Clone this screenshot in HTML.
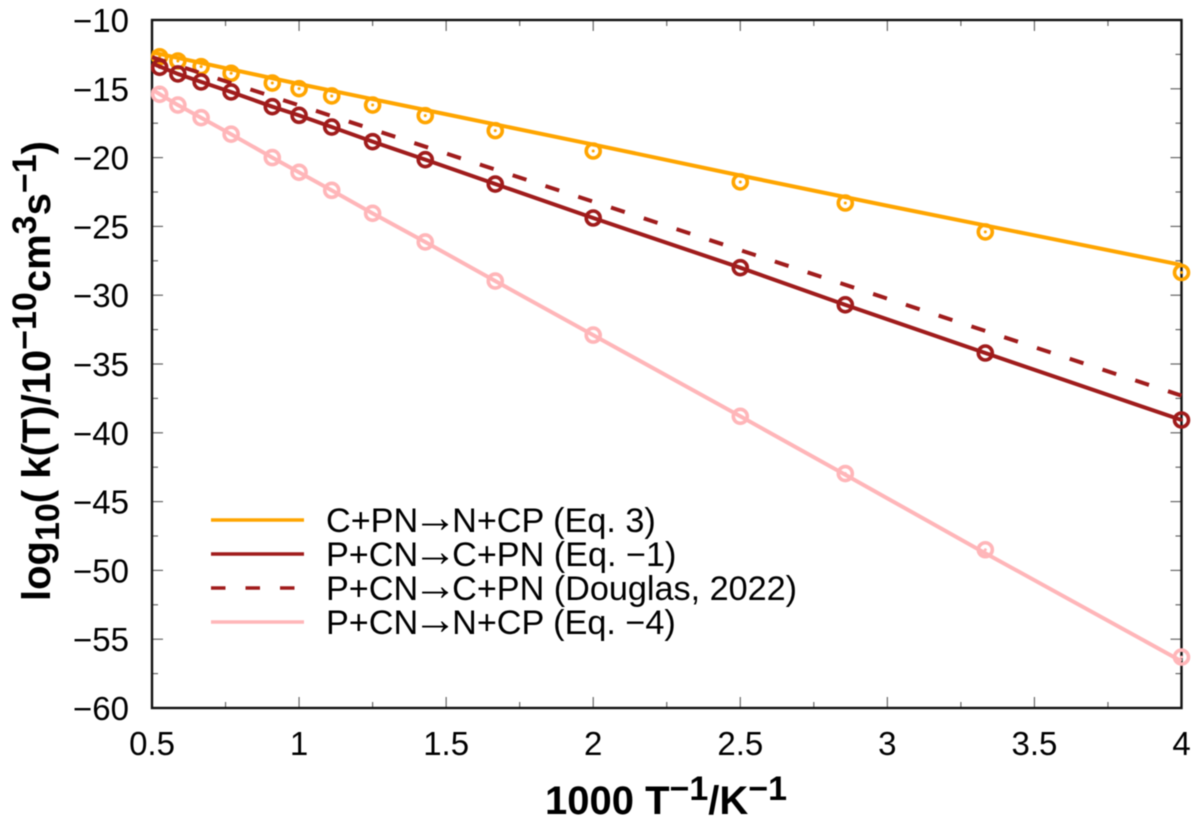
<!DOCTYPE html>
<html>
<head>
<meta charset="utf-8">
<title>Rate coefficients chart</title>
<style>
html,body{margin:0;padding:0;background:#fff}
svg{display:block;filter:blur(0.45px)}
text{font-family:"Liberation Sans",sans-serif;fill:#000}
.arrow{font-size:44px}
</style>
</head>
<body>
<svg id="chart" width="1200" height="820" viewBox="0 0 1200 820" xmlns="http://www.w3.org/2000/svg">
  <rect x="0" y="0" width="1200" height="820" fill="#fff"/>
  <g id="ticks"></g>
  <rect x="152" y="20" width="1029.5" height="688" fill="none" stroke="#111" stroke-width="2.4"/>
  <g id="tick-labels" font-size="33"></g>
  <g id="series"></g>

  <text x="545" y="814" font-size="40" font-weight="bold">1000 T<tspan font-size="34" dy="-14">−1</tspan><tspan font-size="40" dy="14">/K</tspan><tspan font-size="34" dy="-14">−1</tspan></text>
  <text transform="translate(50,601) rotate(-90)" font-size="40" font-weight="bold">log<tspan font-size="34" dy="9">10</tspan><tspan font-size="40" dy="-9">( k(T)/10</tspan><tspan font-size="34" dy="-14">−10</tspan><tspan font-size="40" dy="14">cm</tspan><tspan font-size="34" dy="-14">3</tspan><tspan font-size="40" dy="14">s</tspan><tspan font-size="34" dy="-14">−1</tspan><tspan font-size="40" dy="14">)</tspan></text>

  <g font-size="34.2">
    <g>
      <line x1="211" x2="304" y1="520" y2="520" stroke="#ffa500" stroke-width="3.6"/>
      <text x="326" y="532">C+PN<tspan class="arrow" dx="-5">→</tspan><tspan dx="-5">N+CP (Eq. 3)</tspan></text>
    </g>
    <g>
      <line x1="211" x2="304" y1="554" y2="554" stroke="#a01c1c" stroke-width="3.6"/>
      <text x="326" y="566">P+CN<tspan class="arrow" dx="-5">→</tspan><tspan dx="-5">C+PN (Eq. −1)</tspan></text>
    </g>
    <g>
      <line x1="211" x2="304" y1="588" y2="588" stroke="#a01c1c" stroke-width="3.6" stroke-dasharray="14.5 20"/>
      <text x="326" y="600">P+CN<tspan class="arrow" dx="-5">→</tspan><tspan dx="-5">C+PN (Douglas, 2022)</tspan></text>
    </g>
    <g>
      <line x1="211" x2="304" y1="622" y2="622" stroke="#ffb6b9" stroke-width="3.6"/>
      <text x="326" y="634">P+CN<tspan class="arrow" dx="-5">→</tspan><tspan dx="-5">N+CP (Eq. −4)</tspan></text>
    </g>
  </g>
</svg>
<script>
var xTickLabels = [0.5, 1, 1.5, 2, 2.5, 3, 3.5, 4];
var yTickLabels = [-10, -15, -20, -25, -30, -35, -40, -45, -50, -55, -60];
var xMinorTicks = [0.75, 1.25, 1.75, 2.25, 2.75, 3.25, 3.75];
var yMinorTicks = [-12.5, -17.5, -22.5, -27.5, -32.5, -37.5, -42.5, -47.5, -52.5, -57.5];

var markerX = [0.526, 0.588, 0.667, 0.769, 0.909, 1, 1.111, 1.25, 1.429, 1.667, 2, 2.5, 2.857, 3.333, 4];
var orangeMarkers = [-12.67, -12.98, -13.39, -13.87, -14.58, -14.99, -15.52, -16.18, -16.95, -18.04, -19.52, -21.77, -23.3, -25.4, -28.35];
var maroonMarkers = [-13.44, -13.92, -14.5, -15.23, -16.3, -16.93, -17.78, -18.84, -20.15, -21.92, -24.39, -28.0, -30.7, -34.2, -39.07];
var pinkMarkers = [-15.4, -16.18, -17.1, -18.3, -20, -21.07, -22.38, -24.05, -26.13, -28.97, -32.9, -38.8, -42.96, -48.5, -56.3];

var orangeLineX = [0.5, 1, 1.5, 2, 2.5, 3, 3.5, 4];
var orangeLineY = [-12.35, -14.65, -16.85, -19.05, -21.3, -23.5, -25.65, -27.8];
var maroonLineX = [0.5, 0.588, 0.667, 0.769, 0.909, 1, 1.111, 1.25, 1.429, 1.667, 2, 2.5, 2.857, 3.333, 4];
var maroonLineY = [-13.15, -13.92, -14.5, -15.23, -16.3, -16.93, -17.78, -18.84, -20.15, -21.92, -24.39, -28.0, -30.7, -34.2, -39.07];
var pinkLineX = [0.5, 0.588, 0.667, 0.769, 0.909, 1, 1.111, 1.25, 1.429, 1.667, 2, 2.5, 2.857, 3.333, 4];
var pinkLineY = [-15.05, -16.18, -17.1, -18.3, -20, -21.07, -22.38, -24.05, -26.13, -28.97, -32.9, -38.8, -43.05, -48.75, -56.6];
var dashedLineX = [0.5, 1, 2, 3, 4];
var dashedLineY = [-12.7, -16.2, -23.2, -30.25, -37.3];

var SVG_NS = 'http://www.w3.org/2000/svg';
var plotLeft = 152, plotRight = 1181.5, plotTop = 20, plotBottom = 708;
function xScale(v) { return plotLeft + (v - 0.5) / 3.5 * (plotRight - plotLeft); }
function yScale(v) { return plotTop + (-10 - v) / 50 * (plotBottom - plotTop); }
function fmt(v) { return String(v).replace('-', '\u2212'); }

function line(parent, x1, y1, x2, y2, w) {
  var el = document.createElementNS(SVG_NS, 'line');
  
  
  el.setAttribute('x1', x1);
  el.setAttribute('y1', y1);
  el.setAttribute('x2', x2);
  el.setAttribute('y2', y2);
  el.setAttribute('stroke', '#666');
  el.setAttribute('stroke-width', w);
  parent.appendChild(el);
}
var ticksG = document.getElementById('ticks');
var labelsG = document.getElementById('tick-labels');
xTickLabels.forEach(function (v) {
  var x = xScale(v);
  line(ticksG, x, plotBottom, x, plotBottom - 11, 1.2);
  line(ticksG, x, plotTop, x, plotTop + 11, 1.2);
  var t = document.createElementNS(SVG_NS, 'text');
  
  
  t.setAttribute('x', x);
  t.setAttribute('y', 755);
  t.setAttribute('text-anchor', 'middle');
  t.textContent = fmt(v);
  labelsG.appendChild(t);
});
xMinorTicks.forEach(function (v) {
  var x = xScale(v);
  line(ticksG, x, plotBottom, x, plotBottom - 6, 1.2);
  line(ticksG, x, plotTop, x, plotTop + 6, 1.2);
});
yTickLabels.forEach(function (v) {
  var y = yScale(v);
  line(ticksG, plotLeft, y, plotLeft + 11, y, 1.2);
  line(ticksG, plotRight, y, plotRight - 11, y, 1.2);
  var t = document.createElementNS(SVG_NS, 'text');
  
  
  t.setAttribute('x', 129);
  t.setAttribute('y', y + 12);
  t.setAttribute('text-anchor', 'end');
  t.textContent = fmt(v);
  labelsG.appendChild(t);
});
yMinorTicks.forEach(function (v) {
  var y = yScale(v);
  line(ticksG, plotLeft, y, plotLeft + 6, y, 1.2);
  line(ticksG, plotRight, y, plotRight - 6, y, 1.2);
});

var seriesG = document.getElementById('series');
function drawLine(xs, ys, color, dash) {
  var p = document.createElementNS(SVG_NS, 'polyline');
  
  
  p.setAttribute('points', xs.map(function (x, i) { return xScale(x) + ',' + yScale(ys[i]); }).join(' '));
  p.setAttribute('fill', 'none');
  p.setAttribute('stroke', color);
  p.setAttribute('stroke-width', '4');
  p.setAttribute('stroke-linejoin', 'round');
  if (dash) p.setAttribute('stroke-dasharray', dash);
  seriesG.appendChild(p);
}
function drawMarkers(xs, ys, color) {
  xs.forEach(function (x, i) {
    var c = document.createElementNS(SVG_NS, 'circle');
    
    
    c.setAttribute('cx', xScale(x));
    c.setAttribute('cy', yScale(ys[i]));
    c.setAttribute('r', '7');
    c.setAttribute('fill', 'none');
    c.setAttribute('stroke', color);
    c.setAttribute('stroke-width', '3.6');
    seriesG.appendChild(c);
    var d = document.createElementNS(SVG_NS, 'circle');
    
    
    d.setAttribute('cx', xScale(x));
    d.setAttribute('cy', yScale(ys[i]));
    d.setAttribute('r', '1.5');
    d.setAttribute('fill', color);
    seriesG.appendChild(d);
  });
}
var PINK = '#ffb6b9', ORANGE = '#ffa500', MAROON = '#a01c1c';
drawLine(pinkLineX, pinkLineY, PINK);
drawMarkers(markerX, pinkMarkers, PINK);
drawLine(orangeLineX, orangeLineY, ORANGE);
drawMarkers(markerX, orangeMarkers, ORANGE);
drawLine(dashedLineX, dashedLineY, MAROON, '14.5 20');
drawLine(maroonLineX, maroonLineY, MAROON);
drawMarkers(markerX, maroonMarkers, MAROON);
</script>
</body>
</html>
